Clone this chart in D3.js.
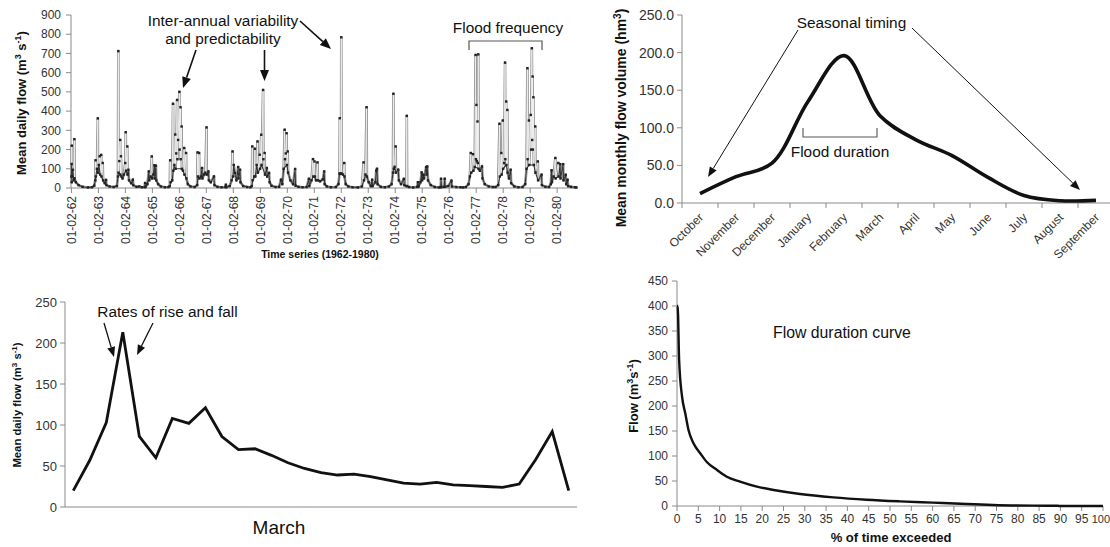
<!DOCTYPE html>
<html><head><meta charset="utf-8">
<script src="https://cdn.jsdelivr.net/npm/d3@7"></script>
<style>
html,body{margin:0;padding:0;background:#fff;}
svg{display:block;font-family:"Liberation Sans",Arial,sans-serif;}
</style></head>
<body>
<svg id="c" width="1110" height="547"></svg>
<script>
// ---------- DATA ----------
// Panel A: daily flow time series 1962-1980 (decimal year, m3/s)
const tsSeries = [
[1962.09,60],[1962.095,125],[1962.097,30],[1962.099,220],[1962.102,60],[1962.14,95],[1962.17,40],[1962.195,254],[1962.2,50],[1962.25,30],[1962.35,15],[1962.5,6],[1962.7,3],[1962.85,4],[1962.93,12],
[1962.97,40],[1962.982,144],[1962.99,60],[1963.03,100],[1963.064,362],[1963.07,80],[1963.1,120],[1963.133,165],[1963.15,70],[1963.188,172],[1963.2,60],[1963.244,130],[1963.26,40],[1963.32,25],[1963.368,42],[1963.38,15],[1963.5,8],[1963.65,5],[1963.77,10],
[1963.81,60],[1963.823,712],[1963.83,80],[1963.86,140],[1963.892,250],[1963.9,70],[1963.919,165],[1963.94,60],[1963.98,50],[1964.03,70],[1964.08,130],[1964.099,290],[1964.11,90],[1964.154,216],[1964.165,70],[1964.195,95],[1964.22,40],[1964.3,25],[1964.361,43],[1964.375,15],[1964.5,6],[1964.6,8],[1964.7,4],[1964.8,5],
[1964.816,26],[1964.83,5],[1964.9,20],[1964.954,86],[1964.97,40],[1965.02,60],[1965.064,164],[1965.075,50],[1965.12,70],[1965.161,118],[1965.175,50],[1965.216,116],[1965.23,40],[1965.3,20],[1965.4,8],[1965.55,4],[1965.68,5],
[1965.73,10],[1965.745,144],[1965.76,30],[1965.82,40],[1965.851,438],[1965.86,90],[1965.9,120],[1965.933,278],[1965.945,100],[1965.97,180],[1966.002,458],[1966.012,150],[1966.04,250],[1966.085,500],[1966.095,200],[1966.126,420],[1966.135,150],[1966.168,320],[1966.18,100],[1966.22,90],[1966.264,208],[1966.275,70],[1966.333,182],[1966.345,50],[1966.4,20],[1966.5,8],[1966.65,5],
[1966.745,15],[1966.761,185],[1966.775,60],[1966.816,182],[1966.83,50],[1966.88,60],[1966.926,104],[1966.94,50],[1967.0,70],[1967.05,80],[1967.092,315],[1967.1,70],[1967.161,86],[1967.18,40],[1967.25,30],[1967.368,60],[1967.385,15],[1967.5,6],[1967.65,4],[1967.79,5],
[1967.809,17],[1967.825,4],[1967.95,10],[1968.02,40],[1968.057,190],[1968.07,60],[1968.1,120],[1968.14,78],[1968.2,40],[1968.264,109],[1968.275,50],[1968.333,95],[1968.35,30],[1968.45,10],[1968.6,5],[1968.72,4],
[1968.77,10],[1968.788,216],[1968.8,40],[1968.86,60],[1968.885,204],[1968.9,60],[1968.95,120],[1968.982,242],[1968.995,80],[1969.064,173],[1969.075,100],[1969.119,277],[1969.13,120],[1969.188,510],[1969.2,150],[1969.244,182],[1969.26,70],[1969.326,104],[1969.34,60],[1969.409,78],[1969.43,30],[1969.5,12],[1969.65,5],[1969.78,6],
[1969.851,43],[1969.9,20],[1969.95,100],[1969.988,303],[1970.0,150],[1970.03,180],[1970.057,285],[1970.07,120],[1970.099,190],[1970.115,80],[1970.2,40],[1970.3,20],[1970.375,99],[1970.39,12],[1970.5,6],[1970.65,4],[1970.8,5],
[1970.885,48],[1970.9,10],[1970.98,40],[1971.037,150],[1971.05,60],[1971.092,138],[1971.105,60],[1971.15,40],[1971.202,133],[1971.22,40],[1971.3,35],[1971.4,45],[1971.451,86],[1971.47,20],[1971.55,8],[1971.7,4],[1971.88,5],
[1971.98,20],[1972.02,75],[1972.03,363],[1972.04,75],[1972.075,75],[1972.085,784],[1972.095,75],[1972.15,70],[1972.195,130],[1972.205,60],[1972.25,20],[1972.35,8],[1972.5,4],[1972.7,3],[1972.85,8],
[1972.913,133],[1972.925,40],[1972.98,70],[1973.023,420],[1973.035,60],[1973.1,30],[1973.18,10],[1973.23,43],[1973.245,10],[1973.35,30],[1973.38,90],[1973.409,100],[1973.43,20],[1973.55,6],[1973.7,4],[1973.85,8],
[1973.95,20],[1974.0,80],[1974.016,490],[1974.03,100],[1974.06,110],[1974.099,216],[1974.11,80],[1974.195,95],[1974.22,40],[1974.3,20],[1974.402,47],[1974.42,15],[1974.5,10],[1974.513,375],[1974.525,10],[1974.6,5],[1974.75,3],[1974.9,6],
[1974.926,30],[1974.95,8],[1975.02,30],[1975.064,81],[1975.08,40],[1975.119,69],[1975.15,50],[1975.23,109],[1975.25,70],[1975.271,112],[1975.3,40],[1975.4,15],[1975.55,5],[1975.7,3],[1975.765,4],
[1975.782,48],[1975.8,5],[1975.9,6],[1975.919,48],[1975.935,6],[1976.05,10],[1976.168,38],[1976.185,8],[1976.35,5],[1976.5,4],[1976.6,3],[1976.7,5],
[1976.8,20],[1976.85,60],[1976.885,182],[1976.9,80],[1976.968,176],[1976.98,90],[1977.03,110],[1977.064,692],[1977.075,150],[1977.092,432],[1977.11,140],[1977.133,346],[1977.145,130],[1977.161,695],[1977.175,100],[1977.22,90],[1977.299,112],[1977.32,50],[1977.4,20],[1977.55,8],[1977.7,5],
[1977.8,5],[1977.9,15],[1977.947,334],[1977.96,60],[1978.016,182],[1978.03,70],[1978.071,351],[1978.08,100],[1978.12,130],[1978.154,652],[1978.165,150],[1978.195,450],[1978.205,120],[1978.237,406],[1978.25,80],[1978.3,50],[1978.361,95],[1978.38,25],[1978.5,8],[1978.65,4],[1978.8,5],
[1978.9,20],[1978.95,100],[1978.982,623],[1978.99,150],[1979.037,351],[1979.05,120],[1979.106,380],[1979.12,200],[1979.147,727],[1979.16,250],[1979.175,580],[1979.185,200],[1979.202,472],[1979.22,120],[1979.271,320],[1979.28,80],[1979.368,138],[1979.38,40],[1979.506,69],[1979.52,15],[1979.65,6],[1979.78,5],
[1979.85,20],[1979.878,92],[1979.89,30],[1979.95,60],[1980.016,156],[1980.03,50],[1980.126,130],[1980.14,60],[1980.195,124],[1980.21,50],[1980.306,124],[1980.32,40],[1980.402,69],[1980.42,20],[1980.471,43],[1980.49,10],[1980.6,6],[1980.75,4],[1980.8,3]
];
const tsTickYears = d3.range(1962, 1981);
const tsYTicks = [0,100,200,300,400,500,600,700,800,900];

// Panel B: mean monthly flow volume (hm3)
const months = ["October","November","December","January","February","March","April","May","June","July","August","September"];
const monthlyVolume = [12.5, 35, 53, 135, 196, 116, 84, 63, 34, 10, 3, 3.5];
const volTicks = [0,50,100,150,200,250];

// Panel C: mean daily flow in March (m3/s), days 1-31
const marchDays = d3.range(1, 32);
const marchFlow = [20,57,103,213,86,60,108,102,121,86,70,71,63,54,47,42,39,40,37,33,29,28,30,27,26,25,24,28,58,92,20];
const marchTicks = [0,50,100,150,200,250];

// Panel D: flow duration curve
const fdcPct  = [0, 0.15, 0.5, 1.2, 1.95, 2.7, 3.9, 5.5, 7, 9.4, 11.7, 14.8, 18.75, 22.7, 28.9, 36.7, 44.5, 52.3, 60, 68, 74.2, 83.6, 89.5, 89.6, 100];
const fdcFlow = [400, 400, 292, 218, 185, 152, 125, 105, 88, 72, 58.6, 48.6, 38.6, 32, 24, 17.3, 12.6, 9.3, 6.7, 4, 2, 0.7, 0.5, 0, 0];
const fdcXTicks = d3.range(0, 101, 5);
const fdcYTicks = d3.range(0, 451, 50);

// ---------- DRAW ----------
const svg = d3.select("#c");
svg.append("rect").attr("width",1110).attr("height",547).attr("fill","#fff");
const AX = "#8a8a8a", TXT = "#333", INK = "#111";

function arrow(g, x1, y1, x2, y2, w, hl, hw){
  const a = Math.atan2(y2-y1, x2-x1);
  const bx = x2 - hl*Math.cos(a), by = y2 - hl*Math.sin(a);
  g.append("line").attr("x1",x1).attr("y1",y1).attr("x2",bx).attr("y2",by)
    .attr("stroke",INK).attr("stroke-width",w);
  const px = -Math.sin(a)*hw/2, py = Math.cos(a)*hw/2;
  g.append("path").attr("d",`M${x2},${y2}L${bx+px},${by+py}L${bx-px},${by-py}Z`).attr("fill",INK);
}

// ===== Panel A =====
{
  const g = svg.append("g");
  const x = d3.scaleLinear().domain([1962.07, 1980.82]).range([71, 577]);
  const y = d3.scaleLinear().domain([0, 900]).range([188, 15]);
  g.append("line").attr("x1",71).attr("x2",71).attr("y1",y(900)).attr("y2",y(0)).attr("stroke",AX);
  g.append("line").attr("x1",71).attr("x2",577).attr("y1",y(0)).attr("y2",y(0)).attr("stroke",AX);
  tsYTicks.forEach(v=>{
    g.append("line").attr("x1",66).attr("x2",71).attr("y1",y(v)).attr("y2",y(v)).attr("stroke",AX);
    g.append("text").attr("x",61).attr("y",y(v)).attr("dy","0.35em").attr("text-anchor","end")
      .attr("font-size",12).attr("fill",TXT).text(v);
  });
  tsTickYears.forEach(yr=>{
    const tx = x(yr + 0.085);
    g.append("line").attr("x1",tx).attr("x2",tx).attr("y1",188).attr("y2",193).attr("stroke",AX);
    g.append("text").attr("transform",`translate(${tx},196) rotate(-90)`).attr("dy","0.35em")
      .attr("text-anchor","end").attr("font-size",12).attr("fill",TXT)
      .text("01-02-" + String(yr).slice(2));
  });
  const line = d3.line().x(d=>x(d[0])).y(d=>y(d[1]));
  g.append("path").datum(tsSeries).attr("d",line).attr("fill","none").attr("stroke","#8c8c8c").attr("stroke-width",2.6).attr("stroke-linejoin","round");
  g.append("path").datum(tsSeries).attr("d",line).attr("fill","none").attr("stroke","#f2f2f2").attr("stroke-width",0.9);
  g.append("path").datum(tsSeries.filter(d=>d[1]<130)).attr("d",line).attr("fill","none").attr("stroke","#333").attr("stroke-width",1.1);
  g.selectAll("rect.m").data(tsSeries).enter().append("rect")
    .attr("x",d=>x(d[0])-1.2).attr("y",d=>y(d[1])-1.2).attr("width",2.4).attr("height",2.4).attr("fill","#222");
  g.append("text").attr("x",21).attr("y",103).attr("transform","rotate(-90,21,103)").attr("dy","0.35em")
    .attr("text-anchor","middle").attr("font-size",13).attr("font-weight","bold").attr("fill",INK)
    .html('Mean daily flow (m<tspan dy="-5" font-size="9">3</tspan><tspan dy="5"> s</tspan><tspan dy="-5" font-size="9">-1</tspan><tspan dy="5">)</tspan>');
  g.append("text").attr("x",320).attr("y",258).attr("text-anchor","middle").attr("font-size",10.5)
    .attr("font-weight","bold").attr("fill",INK).text("Time series (1962-1980)");
  g.append("text").attr("x",223).attr("y",26).attr("text-anchor","middle").attr("font-size",15.4).attr("fill",INK).text("Inter-annual variability");
  g.append("text").attr("x",223).attr("y",44).attr("text-anchor","middle").attr("font-size",15.4).attr("fill",INK).text("and predictability");
  arrow(g, 196, 50, 183, 88, 1.6, 11, 9);
  arrow(g, 264.5, 50, 264.5, 81, 1.6, 11, 9);
  arrow(g, 300, 21, 331, 49, 1.6, 11, 9);
  g.append("text").attr("x",508).attr("y",33).attr("text-anchor","middle").attr("font-size",15.4).attr("fill",INK).text("Flood frequency");
  g.append("path").attr("d","M469,50V41H542V50").attr("fill","none").attr("stroke","#555").attr("stroke-width",1.2);
}

// ===== Panel B =====
{
  const g = svg.append("g");
  const x = d3.scaleBand().domain(months).range([682, 1114]);
  const y = d3.scaleLinear().domain([0, 250]).range([203, 15]);
  g.append("line").attr("x1",682).attr("x2",682).attr("y1",y(250)).attr("y2",y(0)).attr("stroke",AX);
  g.append("line").attr("x1",682).attr("x2",1114).attr("y1",y(0)).attr("y2",y(0)).attr("stroke",AX);
  volTicks.forEach(v=>{
    g.append("line").attr("x1",677).attr("x2",682).attr("y1",y(v)).attr("y2",y(v)).attr("stroke",AX);
    g.append("text").attr("x",674).attr("y",y(v)).attr("dy","0.35em").attr("text-anchor","end")
      .attr("font-size",14).attr("fill",TXT).text(v.toFixed(1));
  });
  months.forEach((m,i)=>{
    const bx = x(m);
    g.append("line").attr("x1",bx).attr("x2",bx).attr("y1",203).attr("y2",208).attr("stroke",AX);
    const cx = bx + x.bandwidth()/2;
    g.append("text").attr("transform",`translate(${cx-2},212) rotate(-45)`).attr("dy","0.72em")
      .attr("text-anchor","end").attr("font-size",12).attr("fill",TXT).text(m);
  });
  const line = d3.line().x((d,i)=>x(months[i])+x.bandwidth()/2).y(d=>y(d)).curve(d3.curveCatmullRom.alpha(0.5));
  g.append("path").datum(monthlyVolume).attr("d",line).attr("fill","none").attr("stroke",INK).attr("stroke-width",3.6);
  g.append("text").attr("x",621).attr("y",118).attr("transform","rotate(-90,621,118)").attr("dy","0.35em")
    .attr("text-anchor","middle").attr("font-size",14).attr("font-weight","bold").attr("fill",INK)
    .html('Mean monthly flow volume (hm<tspan dy="-5" font-size="10">3</tspan><tspan dy="5">)</tspan>');
  g.append("text").attr("x",851.5).attr("y",28).attr("text-anchor","middle").attr("font-size",15.4).attr("fill",INK).text("Seasonal timing");
  arrow(g, 798, 30, 708, 177, 1, 10, 8);
  arrow(g, 912, 28, 1080, 190, 1, 10, 8);
  g.append("text").attr("x",840).attr("y",157).attr("text-anchor","middle").attr("font-size",15.4).attr("fill",INK).text("Flood duration");
  g.append("path").attr("d","M803,128V137H877V128").attr("fill","none").attr("stroke","#555").attr("stroke-width",1.1);
}

// ===== Panel C =====
{
  const g = svg.append("g");
  const x = d3.scaleBand().domain(marchDays).range([65, 577]);
  const y = d3.scaleLinear().domain([0, 250]).range([507, 302]);
  g.append("line").attr("x1",65).attr("x2",65).attr("y1",y(250)).attr("y2",y(0)).attr("stroke",AX);
  g.append("line").attr("x1",65).attr("x2",577).attr("y1",y(0)).attr("y2",y(0)).attr("stroke",AX);
  marchTicks.forEach(v=>{
    g.append("line").attr("x1",60).attr("x2",65).attr("y1",y(v)).attr("y2",y(v)).attr("stroke",AX);
    g.append("text").attr("x",57).attr("y",y(v)).attr("dy","0.35em").attr("text-anchor","end")
      .attr("font-size",13).attr("fill",TXT).text(v);
  });
  const line = d3.line().x((d,i)=>x(marchDays[i])+x.bandwidth()/2).y(d=>y(d));
  g.append("path").datum(marchFlow).attr("d",line).attr("fill","none").attr("stroke",INK).attr("stroke-width",2.8).attr("stroke-linejoin","miter");
  g.append("text").attr("x",279).attr("y",534).attr("text-anchor","middle").attr("font-size",19).attr("fill",INK).text("March");
  g.append("text").attr("x",17).attr("y",405).attr("transform","rotate(-90,17,405)").attr("dy","0.35em")
    .attr("text-anchor","middle").attr("font-size",11.3).attr("font-weight","bold").attr("fill",INK)
    .html('Mean daily flow (m<tspan dy="-4" font-size="8">3</tspan><tspan dy="4"> s</tspan><tspan dy="-4" font-size="8">-1</tspan><tspan dy="4">)</tspan>');
  g.append("text").attr("x",167.5).attr("y",317).attr("text-anchor","middle").attr("font-size",15.4).attr("fill",INK).text("Rates of rise and fall");
  arrow(g, 104, 323, 114, 357, 1.3, 10, 8);
  arrow(g, 153, 323, 137, 355, 1.3, 10, 8);
}

// ===== Panel D =====
{
  const g = svg.append("g");
  const x = d3.scaleLinear().domain([0, 100]).range([677, 1103]);
  const y = d3.scaleLinear().domain([0, 450]).range([506, 281]);
  g.append("line").attr("x1",677).attr("x2",677).attr("y1",y(450)).attr("y2",y(0)).attr("stroke",AX);
  g.append("line").attr("x1",677).attr("x2",1103).attr("y1",y(0)).attr("y2",y(0)).attr("stroke",AX);
  fdcYTicks.forEach(v=>{
    g.append("line").attr("x1",672).attr("x2",677).attr("y1",y(v)).attr("y2",y(v)).attr("stroke",AX);
    g.append("text").attr("x",668).attr("y",y(v)).attr("dy","0.35em").attr("text-anchor","end")
      .attr("font-size",12).attr("fill",TXT).text(v);
  });
  fdcXTicks.forEach(v=>{
    g.append("line").attr("x1",x(v)).attr("x2",x(v)).attr("y1",506).attr("y2",511).attr("stroke",AX);
    const last = v === 100;
    g.append("text").attr("x", last ? 1110 : x(v)).attr("y",523).attr("text-anchor", last ? "end" : "middle")
      .attr("font-size", last ? 11 : 12).attr("fill",TXT).text(v);
  });
  const line = d3.line().x((d,i)=>x(fdcPct[i])).y(d=>y(d)).curve(d3.curveMonotoneX);
  g.append("path").datum(fdcFlow).attr("d",line).attr("fill","none").attr("stroke",INK).attr("stroke-width",2.4);
  g.append("text").attr("x",891).attr("y",542).attr("text-anchor","middle").attr("font-size",13)
    .attr("font-weight","bold").attr("fill",INK).text("% of time exceeded");
  g.append("text").attr("x",633).attr("y",396).attr("transform","rotate(-90,633,396)").attr("dy","0.35em")
    .attr("text-anchor","middle").attr("font-size",13).attr("font-weight","bold").attr("fill",INK)
    .html('Flow (m<tspan dy="-5" font-size="9">3</tspan><tspan dy="5">s</tspan><tspan dy="-5" font-size="9">-1</tspan><tspan dy="5">)</tspan>');
  g.append("text").attr("x",842).attr("y",338).attr("text-anchor","middle").attr("font-size",15.8).attr("fill",INK).text("Flow duration curve");
}
</script>
</body></html>
